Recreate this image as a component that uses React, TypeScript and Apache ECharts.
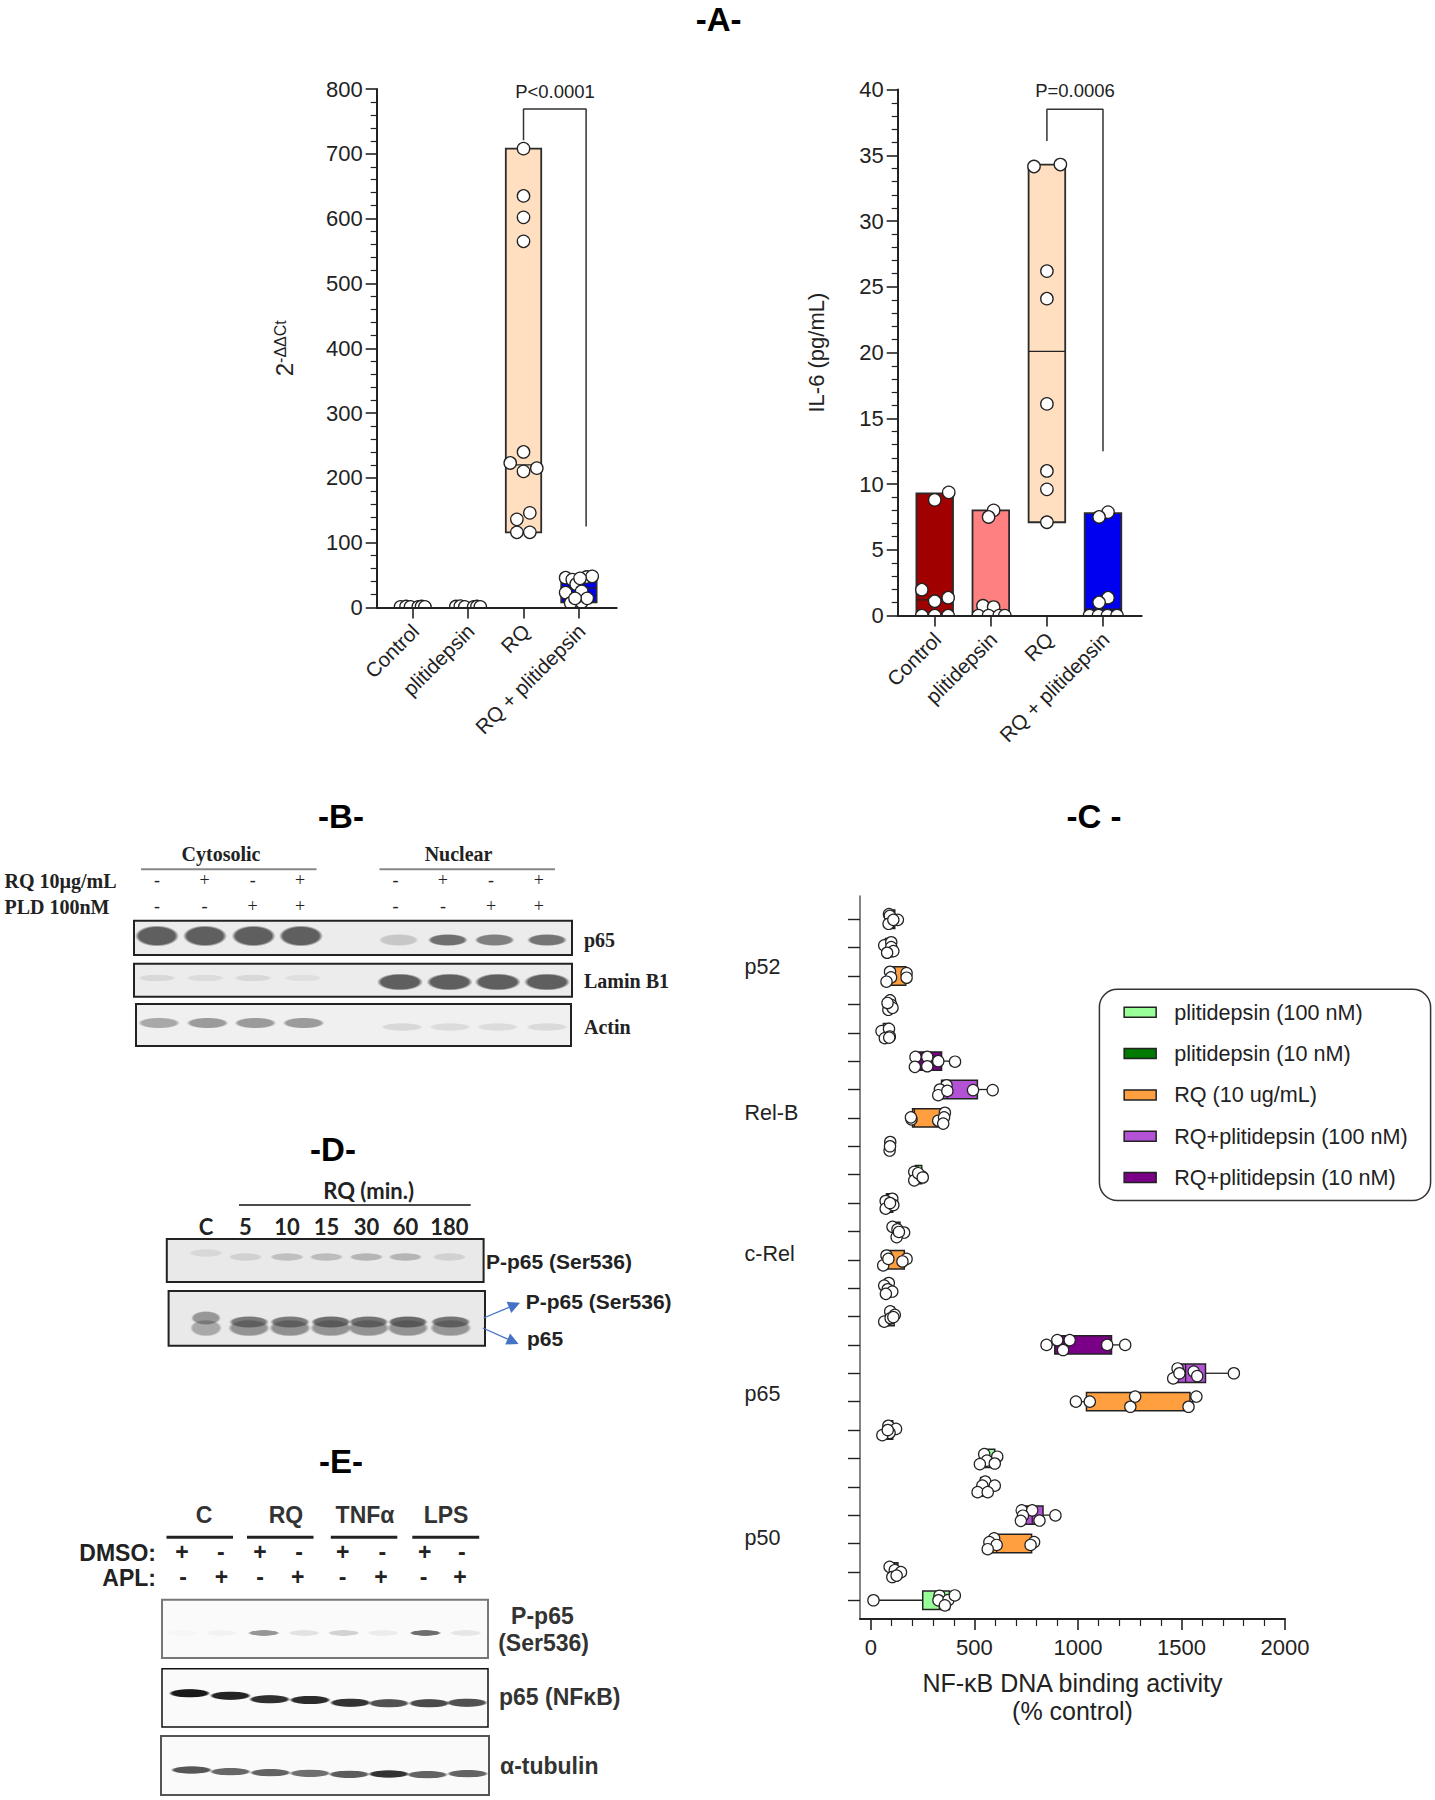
import React, { useEffect, useRef } from "react";
import * as echarts from "echarts";

// ---------- Panel A data ----------
const groupsA = ["Control", "plitidepsin", "RQ", "RQ + plitidepsin"];
const a1Ticks = [0, 1, 2, 3];
const a1LabelAnchors = [0.045, 1.045, 2.045, 3.045];
// [index, low, high, median]
const a1Bars = [
  [0, 0, 3, 1],
  [1, 0, 3, 1],
  [2, 116, 708, 220],
  [3, 8, 49, 30],
];
const a2Bars = [
  [0, 0, 9.3, 1.2],
  [1, 0, 8.0, 0.3],
  [2, 7.1, 34.3, 20.1],
  [3, 0, 7.8, 0.5],
];
const a1Colors = ["#A00000", "#FF8080", "#FFDFC0", "#0000F0"];
const a2Colors = ["#A00000", "#FF8080", "#FFDFC0", "#0000F0"];
// [x position, value]
const a1Control = [[-0.22, 1], [-0.12, 1.5], [-0.04, 1], [0.1, 1], [0.16, 1.5], [0.22, 1]];
const a1Plit = [[-0.22, 1.5], [-0.14, 2], [-0.06, 1], [0.1, 1], [0.16, 1.5], [0.22, 1]];
const a1Rq = [[0, 708], [0, 635], [0, 602], [0, 565], [0, 240], [-0.24, 223], [0.24, 215], [0, 210], [0.114, 146], [-0.12, 136], [-0.12, 116], [0.114, 116]];
const a1RqPlit = [[-0.24, 46], [-0.12, 43], [-0.24, 23], [-0.05, 36], [0.05, 25], [0.14, 47], [0.24, 48], [0.02, 45], [-0.15, 7], [0.05, 8], [0.15, 14], [-0.07, 14]];
const a2Control = [[0.25, 9.37], [0, 8.8], [-0.23, 1.97], [0.24, 1.36], [0, 1.09], [-0.23, 0], [0, 0], [0.24, 0]];
const a2Plit = [[0.05, 8.0], [-0.04, 7.5], [-0.14, 0.75], [0.05, 0.65], [-0.22, 0], [-0.04, 0], [0.15, 0], [0.25, 0]];
const a2Rq = [[-0.23, 34.15], [0.24, 34.3], [0, 26.2], [0, 24.1], [0, 16.1], [0, 11.0], [0, 9.6], [0, 7.1]];
const a2RqPlit = [[0.09, 7.87], [-0.07, 7.5], [0.09, 1.36], [-0.07, 1.0], [-0.24, 0], [-0.08, 0], [0.08, 0], [0.25, 0]];
const a1Bracket = [[2, 721], [2, 769], [3.13, 769], [3.13, 125]];
const a2Bracket = [[2, 36.1], [2, 38.5], [3, 38.5], [3, 12.5]];

// ---------- Panel C data ----------
const legendNames = ["plitidepsin (100 nM)", "plitidepsin (10 nM)", "RQ (10 ug/mL)", "RQ+plitidepsin (100 nM)", "RQ+plitidepsin (10 nM)"];
const legendColors = ["#99FF99", "#007A00", "#FF9F40", "#B452D6", "#7B0088"];
const xTicksC = [0, 500, 1000, 1500, 2000];
const xMinorC = [100, 200, 300, 400, 600, 700, 800, 900, 1100, 1200, 1300, 1400, 1600, 1700, 1800, 1900];
const yTicksC = [0, 1, 2, 3, 4, 5, 6, 7, 8, 9, 10, 11, 12, 13, 14, 15, 16, 17, 18, 19, 20, 21, 22, 23, 24];
const familyNames = ["p50", "p65", "c-Rel", "Rel-B", "p52"];
// [row, low, q1, median, q3, high]
const boxesPlit100 = [[0, 12, 250, 330, 379, 405], [5, 526, 547, 560, 598, 610], [10, 64, 80, 95, 112, 115], [15, 209, 215, 228, 245, 248], [20, 51, 60, 80, 90, 91]];
const boxesPlit10 = [[1, 90, 95, 112, 130, 145], [6, 55, 80, 88, 105, 121], [11, 64, 70, 81, 95, 103], [16, 90, 91, 92, 93, 93], [21, 80, 85, 92, 100, 104]];
const boxesRq = [[2, 564, 584, 607, 776, 788], [7, 990, 1041, 1260, 1541, 1572], [12, 59, 75, 84, 161, 172], [17, 196, 201, 210, 341, 357], [22, 75, 96, 97, 168, 172]];
const boxesRqPlit100 = [[3, 724, 745, 779, 831, 891], [8, 1460, 1478, 1520, 1616, 1753], [13, 104, 110, 128, 140, 160], [18, 325, 341, 369, 514, 588], [23, 64, 70, 98, 105, 108]];
const boxesRqPlit10 = [[4, 515, 530, 552, 570, 598], [9, 848, 888, 935, 1162, 1228], [14, 71, 75, 90, 105, 108], [19, 212, 220, 272, 341, 406], [24, 85, 87, 91, 115, 130]];
// [value, row + offset]
const pointsC = [
  [12, 0], [331, 0.16], [326, 0], [374, 0.01], [405, 0.17], [357, -0.18],
  [90, 1.18], [115, 1.06], [145, 0.99], [103, 0.82], [124, 0.87],
  [595, 2.18], [572, 2.05], [607, 1.95], [564, 1.8], [788, 2.05], [771, 1.95],
  [728, 3.17], [779, 3.17], [734, 2.98], [724, 2.8], [814, 2.81], [891, 2.99],
  [552, 4.18], [598, 4.04], [538, 4.04], [515, 3.81], [564, 3.81],
  [547, 5.15], [610, 5.06], [560, 4.92], [526, 4.8], [598, 4.82],
  [84, 6.15], [121, 6.04], [90, 5.9], [55, 5.82], [81, 6.0],
  [990, 7], [1057, 7], [1276, 7.18], [1253, 6.82], [1534, 6.82], [1572, 7.18],
  [1460, 7.82], [1481, 8.17], [1490, 8.0], [1559, 8.06], [1576, 7.9], [1753, 8],
  [848, 9], [900, 9.17], [960, 9.17], [928, 8.82], [1141, 9], [1228, 9],
  [93, 10.18], [115, 10.06], [64, 9.82], [95, 9.94], [108, 9.98],
  [86, 11.18], [64, 11.09], [81, 10.96], [103, 10.88], [72, 10.8],
  [75, 12.15], [59, 11.8], [172, 12.03], [152, 11.94], [84, 12.03],
  [104, 13.16], [128, 13.07], [160, 12.96], [124, 12.8], [135, 12.98],
  [103, 14.15], [71, 14.07], [71, 13.8], [108, 13.93], [92, 14],
  [209, 15.1], [209, 14.8], [248, 14.93], [228, 15.05], [250, 14.9],
  [93, 16.15], [90, 15.85], [92, 16],
  [196, 16.95], [193, 17.02], [325, 16.9], [357, 17.18], [353, 17.02], [349, 16.8],
  [365, 18.15], [333, 18], [325, 17.8], [369, 17.95], [493, 17.98], [588, 17.98],
  [215, 19.15], [212, 18.8], [272, 19.15], [272, 18.82], [325, 19], [406, 18.98],
  [51, 20.06], [87, 20.14], [91, 19.87], [67, 19.81], [88, 19.83],
  [92, 21.14], [98, 20.98], [84, 20.81], [104, 20.88], [80, 21.05],
  [92, 22.15], [97, 21.95], [75, 21.8], [172, 22.1], [172, 21.94],
  [64, 23.08], [98, 23.19], [98, 23.02], [108, 22.88], [78, 22.82],
  [87, 24.18], [91, 24.12], [130, 23.98], [85, 23.84], [108, 23.98],
];
// [from row, to row] of each bracket, in the order of familyNames
const bracketRows = [[0, 3.83], [5.06, 8.9], [9.99, 13.83], [14.98, 18.83], [20.12, 23.97]];

// ---------- Blot data (band intensity per lane) ----------
const signsB1 = ["-", "+", "-", "+", "-", "+", "-", "+"];
const signsB2 = ["-", "-", "+", "+", "-", "-", "+", "+"];
const bP65 = [0.85, 0.85, 0.85, 0.85, 0.22, 0.75, 0.65, 0.72];
const bLamin = [0.12, 0.1, 0.12, 0.08, 0.85, 0.85, 0.85, 0.85];
const bActin = [0.42, 0.5, 0.5, 0.5, 0.14, 0.12, 0.12, 0.13];
const lanesD = ["C", "5", "10", "15", "30", "60", "180"];
const dTop = [0.1, 0.14, 0.24, 0.26, 0.3, 0.3, 0.14];
const dUpper = [0.5, 0.68, 0.68, 0.75, 0.72, 0.78, 0.72];
const dLower = [0.45, 0.6, 0.62, 0.6, 0.6, 0.6, 0.58];
const groupsE = ["C", "RQ", "TNFα", "LPS"];
const signsE1 = ["+", "-", "+", "-", "+", "-", "+", "-"];
const signsE2 = ["-", "+", "-", "+", "-", "+", "-", "+"];
const ePhospho = [0.02, 0.04, 0.5, 0.12, 0.2, 0.07, 0.7, 0.1];
const eP65 = [1, 0.95, 0.9, 0.92, 0.88, 0.75, 0.78, 0.75];
const eTub = [0.78, 0.7, 0.72, 0.66, 0.75, 0.95, 0.72, 0.72];

const ink = "#222";
const sans = '"Liberation Sans", Arial, sans-serif';
const serif = '"Liberation Serif", "Times New Roman", serif';

const txt = (x: number, y: number, text: string, font: string, align = "center", fill = ink, rotation = 0) => ({
  type: "text", x, y, rotation, silent: true,
  style: { text, font, fill, align, verticalAlign: "middle" },
});
const seg = (x1: number, y1: number, x2: number, y2: number, stroke = ink, lineWidth = 1.5) => ({
  type: "line", silent: true, shape: { x1, y1, x2, y2 }, style: { stroke, lineWidth },
});
const frame = (x: number, y: number, w: number, h: number, fill: string, stroke = "#222", lineWidth = 2) => ({
  type: "rect", silent: true, shape: { x, y, width: w, height: h }, style: { fill, stroke, lineWidth },
});
const band = (cx: number, cy: number, w: number, h: number, a: number, shade = "25,25,25") => ({
  type: "rect", silent: true,
  shape: { x: cx - w / 2, y: cy - h / 2, width: w, height: h },
  style: {
    fill: new echarts.graphic.RadialGradient(0.5, 0.5, 0.5, [
      { offset: 0, color: `rgba(${shade},${a})` },
      { offset: 0.82, color: `rgba(${shade},${a})` },
      { offset: 1, color: `rgba(${shade},0)` },
    ]),
  },
});
const arrow = (x1: number, y1: number, x2: number, y2: number) => {
  const len = Math.hypot(x2 - x1, y2 - y1);
  const ux = (x2 - x1) / len, uy = (y2 - y1) / len;
  const bx = x2 - ux * 12, by = y2 - uy * 12;
  return [
    seg(x1, y1, bx, by, "#4472C4", 1.2),
    {
      type: "polygon", silent: true,
      shape: { points: [[x2, y2], [bx - uy * 6, by + ux * 6], [bx + uy * 6, by - ux * 6]] },
      style: { fill: "#4472C4" },
    },
  ];
};

function blotGraphics() {
  const out: any[] = [];
  const title = 'bold 33px ' + sans;
  out.push(txt(718.6, 19.5, "-A-", title, "center", "#000"));
  out.push(txt(341, 816, "-B-", title, "center", "#000"));
  out.push(txt(1094, 816, "-C -", title, "center", "#000"));
  out.push(txt(333, 1149, "-D-", title, "center", "#000"));
  out.push(txt(341, 1461, "-E-", title, "center", "#000"));
  out.push(txt(555, 91.5, "P<0.0001", "18.5px " + sans));
  out.push(txt(1075, 90.5, "P=0.0006", "18.5px " + sans));

  // panel C family labels
  const famY = [1538, 1394, 1254, 1113, 967];
  familyNames.forEach((n, i) => out.push(txt(744.5, famY[i], n, "21.5px " + sans, "left")));

  // panel B
  const bf = "bold 20px " + serif;
  out.push(txt(221, 854, "Cytosolic", bf), txt(458.5, 854, "Nuclear", bf));
  out.push(seg(141, 869.3, 316.5, 869.3, "#888", 2), seg(379.5, 869.3, 555, 869.3, "#888", 2));
  out.push(txt(4.5, 880.7, "RQ 10µg/mL", bf, "left"), txt(4.5, 907, "PLD 100nM", bf, "left"));
  const signX = [157, 204.5, 252.7, 300, 395.5, 442.9, 491, 538.8];
  signX.forEach((x, i) => {
    out.push(txt(x, 880, signsB1[i], "18px " + serif), txt(x, 906, signsB2[i], "18px " + serif));
  });
  out.push(frame(134, 920.7, 438, 34.3, "#ECECEC"), frame(134, 963.7, 438, 33, "#ECECEC"), frame(136, 1004, 435, 42, "#F0F0F0"));
  const b1X = [157, 205, 253.6, 301, 398.7, 447.8, 494.6, 547];
  const b2X = [157, 205, 253, 303, 400, 449.6, 497.8, 547];
  const b3X = [159, 207.5, 255.4, 303.6, 402, 450, 497.8, 547];
  b1X.forEach((x, i) => out.push(band(x, i < 4 ? 936 : 940, i < 4 ? 44 : 40, i < 4 ? 21 : 12, bP65[i], "70,70,70")));
  b2X.forEach((x, i) => out.push(band(x, i < 4 ? 978 : 982, i < 4 ? 38 : 46, i < 4 ? 7 : 17, bLamin[i], "70,70,70")));
  b3X.forEach((x, i) => out.push(band(x, i < 4 ? 1023 : 1027, 42, i < 4 ? 11 : 8, bActin[i], "70,70,70")));
  const bl = "bold 20px " + serif;
  out.push(txt(584, 939.5, "p65", bl, "left"), txt(584, 980.7, "Lamin B1", bl, "left"), txt(584, 1027, "Actin", bl, "left"));

  // panel D
  const df = 'bold 22px Lato, ' + sans;
  out.push(txt(368.6, 1190, "RQ (min.)", df), seg(239, 1205, 470.7, 1205, "#111", 1.6));
  const dLabelX = [206, 245.4, 287, 326.4, 366.4, 405.4, 449.3];
  lanesD.forEach((l, i) => out.push(txt(dLabelX[i], 1226.7, l, df)));
  out.push(frame(166.8, 1239, 316.8, 43, "#E9E9E9"), frame(168.6, 1291, 316.4, 54.7, "#E9E9E9"));
  const dX1 = [206, 245.4, 287, 326.4, 366.4, 405.4, 449.3];
  const dX2 = [206, 249, 290, 331, 368.6, 407.9, 450.7];
  dX1.forEach((x, i) => out.push(band(x, i === 0 ? 1253 : 1257, 34, 8, dTop[i], "60,60,60")));
  dX2.forEach((x, i) => {
    out.push(band(x, 1328, i === 0 ? 32 : 42, 17, dLower[i], "90,90,90"));
    out.push(band(x, i === 0 ? 1318 : 1322, i === 0 ? 30 : 40, i === 0 ? 14 : 12, dUpper[i], "70,70,70"));
  });
  const dl = "bold 21px " + sans;
  out.push(txt(486, 1261, "P-p65 (Ser536)", dl, "left"), txt(525.7, 1301.7, "P-p65 (Ser536)", dl, "left"), txt(527, 1338, "p65", dl, "left"));
  out.push(...arrow(483.6, 1318, 520, 1302.7), ...arrow(482.9, 1328, 518.6, 1344));

  // panel E
  const ef = "bold 23px " + sans;
  const eGroupX = [204, 286, 365, 446];
  const eLines = [[166.5, 233], [247, 313.5], [330.8, 397.3], [412.3, 479.2]];
  groupsE.forEach((g, i) => {
    out.push(txt(eGroupX[i], 1515, g, ef, "center", "#333"));
    out.push(seg(eLines[i][0], 1537.3, eLines[i][1], 1537.3, "#222", 3));
  });
  out.push(txt(156, 1553, "DMSO:", ef, "right"), txt(156, 1578, "APL:", ef, "right"));
  const e1X = [182, 220.8, 260, 299.2, 342.7, 382.3, 424.6, 461.9];
  const e2X = [183, 221.5, 260, 297.7, 342.7, 381, 423.5, 460];
  e1X.forEach((x, i) => out.push(txt(x, 1552, signsE1[i], ef)));
  e2X.forEach((x, i) => out.push(txt(x, 1577, signsE2[i], ef)));
  out.push(frame(162, 1599.7, 326, 58.3, "#FAFAFA", "#777", 2), frame(162, 1668.7, 326, 58.3, "#FAFAFA", "#111", 1.5), frame(161, 1736, 328, 59, "#FAFAFA", "#555", 2));
  const eTopX = [183, 221.5, 263.8, 304.2, 343.8, 383, 425.4, 465.8];
  const eMidX = [189.6, 230.4, 269.6, 310, 350.4, 388.8, 429.2, 467];
  const eMidY = [1693.3, 1695.7, 1699.3, 1700, 1702.7, 1703.3, 1703.3, 1702.7];
  const eBotX = [191.5, 230.4, 270.4, 310, 349.2, 388.8, 427.3, 467.7];
  const eBotY = [1770, 1771.7, 1772.7, 1773.3, 1774.3, 1774, 1774.7, 1773.7];
  eTopX.forEach((x, i) => out.push(band(x, 1633, 32, 6, ePhospho[i], "50,50,50")));
  eMidX.forEach((x, i) => out.push(band(x, eMidY[i], 42, 9, eP65[i])));
  eBotX.forEach((x, i) => out.push(band(x, eBotY[i], 42, 8, eTub[i], "40,40,40")));
  out.push(txt(542.4, 1616, "P-p65", ef, "center", "#333"), txt(543.6, 1643, "(Ser536)", ef, "center", "#333"));
  out.push(txt(499, 1697, "p65 (NFκB)", ef, "left", "#333"), txt(500, 1766, "α-tubulin", ef, "left", "#333"));
  return out;
}

const rangeBarRender = (colors: string[], halfWidth: number) => (params: any, api: any) => {
  const x = api.value(0);
  const lo = api.coord([x, api.value(1)]);
  const hi = api.coord([x, api.value(2)]);
  const med = api.coord([x, api.value(3)]);
  return {
    type: "group",
    children: [
      {
        type: "rect",
        shape: { x: lo[0] - halfWidth, y: hi[1], width: halfWidth * 2, height: lo[1] - hi[1] },
        style: { fill: colors[params.dataIndex], stroke: "#2b2b2b", lineWidth: 1.8 },
      },
      {
        type: "line",
        shape: { x1: lo[0] - halfWidth, y1: med[1], x2: lo[0] + halfWidth, y2: med[1] },
        style: { stroke: "#222", lineWidth: 1.3 },
      },
    ],
  };
};
const dotRender = (_p: any, api: any) => {
  const c = api.coord([api.value(0), api.value(1)]);
  return {
    type: "circle",
    shape: { cx: c[0], cy: c[1], r: 6.2 },
    style: { fill: "#fff", stroke: "#222", lineWidth: 1.3 },
  };
};
const boxRender = (color: string) => (_p: any, api: any) => {
  const row = api.value(0);
  const pt = (d: number) => api.coord([api.value(d), row]);
  const h = 9.2;
  const q1 = pt(2), med = pt(3), q3 = pt(4), low = pt(1), high = pt(5);
  const y = q1[1];
  const line = (a: number, b: number, c: number, d: number, w = 1.3) => ({
    type: "line", shape: { x1: a, y1: b, x2: c, y2: d }, style: { stroke: "#222", lineWidth: w },
  });
  return {
    type: "group",
    children: [
      line(low[0], y, q1[0], y),
      line(q3[0], y, high[0], y),
      { type: "rect", shape: { x: q1[0], y: y - h, width: q3[0] - q1[0], height: h * 2 }, style: { fill: color, stroke: "#222", lineWidth: 1.5 } },
      line(med[0], y - h, med[0], y + h),
    ],
  };
};

const dotSeries = (points: number[][], group: number, axis: number) => ({
  type: "custom", xAxisIndex: axis, yAxisIndex: axis, clip: true, z: 4, silent: true,
  renderItem: dotRender,
  encode: { x: 0, y: 1 },
  data: points.map((p) => [group + p[0], p[1]]),
});
const bracketSeries = (data: number[][], axis: number) => ({
  type: "line", xAxisIndex: axis, yAxisIndex: axis, data, symbol: "none", clip: false, silent: true, z: 3,
  lineStyle: { color: "#333", width: 1.5 },
});
const boxSeries = (name: string, rows: number[][], color: string) => ({
  type: "custom", name, xAxisIndex: 2, yAxisIndex: 2, silent: true, z: 3, clip: false,
  itemStyle: { color },
  renderItem: boxRender(color),
  encode: { x: [1, 2, 3, 4, 5], y: 0 },
  data: rows,
});

const axisInk = { color: ink, width: 2 };
const yAxisA = (max: number, interval: number, nameGap: number, name: string, rich: any, nameSize: number, grid: number) => ({
  type: "value", gridIndex: grid, min: 0, max, interval, z: 5,
  name, nameLocation: "middle", nameRotate: 90, nameGap,
  nameTextStyle: { color: ink, fontFamily: sans, fontSize: nameSize, rich },
  axisLine: { show: true, onZero: false, lineStyle: axisInk },
  axisTick: { show: true, length: 11, lineStyle: { color: ink, width: 1.6 } },
  minorTick: { show: true, splitNumber: 5, length: 6, lineStyle: { color: ink, width: 1.2 } },
  axisLabel: { color: ink, fontFamily: sans, fontSize: 22, margin: 14 },
  splitLine: { show: false },
  minorSplitLine: { show: false },
});
const xAxisA = (min: number, max: number, grid: number) => ({
  type: "value", gridIndex: grid, min, max, z: 5, position: "bottom",
  axisLine: { show: true, onZero: false, lineStyle: axisInk },
  axisTick: { show: true, length: 11, customValues: a1Ticks, lineStyle: { color: ink, width: 1.6 } },
  axisLabel: {
    show: true, customValues: a1LabelAnchors, rotate: 45, color: ink, fontFamily: sans, fontSize: 20.5, margin: 20,
    formatter: (v: number) => groupsA[Math.round(v)],
  },
  splitLine: { show: false },
});

export default function App() {
  const ref = useRef<HTMLDivElement>(null);
  useEffect(() => {
    const chart = echarts.init(ref.current!, undefined, { renderer: "svg", width: 1435, height: 1800 });
    chart.setOption({
      animation: false,
      backgroundColor: "#fff",
      grid: [
        { left: 376.7, top: 89, width: 240, height: 518.5, outerBoundsMode: "none" },
        { left: 897.7, top: 89.6, width: 244, height: 526, outerBoundsMode: "none" },
        { left: 860, top: 896, width: 425, height: 723, outerBoundsMode: "none" },
      ],
      xAxis: [
        xAxisA(-0.65, 3.682, 0),
        xAxisA(-0.66, 3.69, 1),
        {
          type: "value", gridIndex: 2, min: -53, max: 2000, z: 5, position: "bottom",
          name: "NF-κB DNA binding activity\n(% control)", nameLocation: "middle", nameGap: 50,
          nameTextStyle: { color: ink, fontFamily: sans, fontSize: 25, lineHeight: 28 },
          axisLine: { show: true, onZero: false, lineStyle: axisInk },
          axisTick: { show: true, length: 11, customValues: xTicksC, lineStyle: { color: ink, width: 1.6 } },
          axisLabel: {
            show: true, customValues: xTicksC, color: ink, fontFamily: sans, fontSize: 22, margin: 17,
            formatter: (v: number) => String(v),
          },
          splitLine: { show: false },
        },
        {
          type: "value", gridIndex: 2, min: -53, max: 2000, z: 5, position: "bottom",
          axisLine: { show: false, onZero: false },
          axisTick: { show: true, length: 7, customValues: xMinorC, lineStyle: { color: ink, width: 1.2 } },
          axisLabel: { show: false },
          splitLine: { show: false },
        },
      ],
      yAxis: [
        yAxisA(800, 100, 80, "{b|2}{s|-ΔΔCt}", {
          b: { fontSize: 24, color: ink, fontFamily: sans },
          s: { fontSize: 16, color: ink, fontFamily: sans, verticalAlign: "top" },
        }, 24, 0),
        yAxisA(40, 5, 70, "IL-6 (pg/mL)", {}, 22, 1),
        {
          type: "value", gridIndex: 2, min: -0.66, max: 24.82, z: 5,
          axisLine: { show: true, onZero: false, lineStyle: { color: "#666", width: 1.6 } },
          axisTick: { show: true, length: 12, customValues: yTicksC, lineStyle: { color: "#222", width: 1.4 } },
          axisLabel: { show: false },
          splitLine: { show: false },
        },
      ],
      legend: {
        show: true, orient: "vertical", left: 1099.4, top: 989.3,
        padding: [12, 23, 12, 24], itemWidth: 32, itemHeight: 10, itemGap: 19.3, selectedMode: false,
        backgroundColor: "#fff", borderColor: "#333", borderWidth: 1.5, borderRadius: 18,
        textStyle: { color: ink, fontFamily: sans, fontSize: 21.6, lineHeight: 21, padding: [0, 0, 0, 13] },
        data: legendNames.map((name, i) => ({
          name, icon: "rect",
          itemStyle: { color: legendColors[i], borderColor: "#222", borderWidth: 1.5 },
        })),
      },
      graphic: { elements: blotGraphics() },
      series: [
        { type: "custom", xAxisIndex: 0, yAxisIndex: 0, clip: true, silent: true, z: 3, renderItem: rangeBarRender(a1Colors, 17.7), encode: { x: 0, y: [1, 2] }, data: a1Bars },
        { type: "custom", xAxisIndex: 1, yAxisIndex: 1, clip: true, silent: true, z: 3, renderItem: rangeBarRender(a2Colors, 18.3), encode: { x: 0, y: [1, 2] }, data: a2Bars },
        dotSeries(a1Control, 0, 0),
        dotSeries(a1Plit, 1, 0),
        dotSeries(a1Rq, 2, 0),
        dotSeries(a1RqPlit, 3, 0),
        dotSeries(a2Control, 0, 1),
        dotSeries(a2Plit, 1, 1),
        dotSeries(a2Rq, 2, 1),
        dotSeries(a2RqPlit, 3, 1),
        bracketSeries(a1Bracket, 0),
        bracketSeries(a2Bracket, 1),
        boxSeries(legendNames[0], boxesPlit100, legendColors[0]),
        boxSeries(legendNames[1], boxesPlit10, legendColors[1]),
        boxSeries(legendNames[2], boxesRq, legendColors[2]),
        boxSeries(legendNames[3], boxesRqPlit100, legendColors[3]),
        boxSeries(legendNames[4], boxesRqPlit10, legendColors[4]),
        {
          type: "scatter", xAxisIndex: 2, yAxisIndex: 2, clip: false, silent: true, z: 4,
          symbol: "circle", symbolSize: 11.3, data: pointsC,
          itemStyle: { color: "#fff", borderColor: "#222", borderWidth: 1.2, opacity: 1 },
        },
        ...bracketRows.map((r) => ({
          type: "line", xAxisIndex: 2, yAxisIndex: 2, symbol: "none", clip: false, silent: true, z: 3,
          lineStyle: { color: "#222", width: 1.6 },
          data: [[-160, r[1]], [-313, r[1]], [-313, r[0]], [-160, r[0]]],
        })),
      ],
    });
    return () => chart.dispose();
  }, []);
  return <div ref={ref} style={{ position: "absolute", left: 0, top: 0, width: 1435, height: 1800 }} />;
}
